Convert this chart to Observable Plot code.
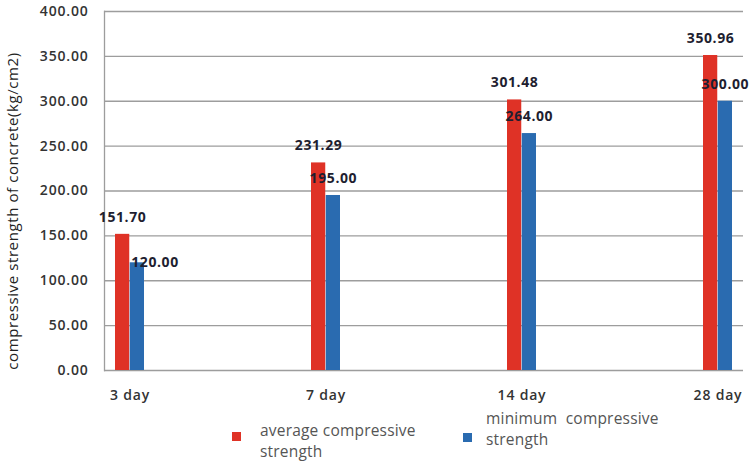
<!DOCTYPE html>
<html>
<head>
<meta charset="utf-8">
<script src="https://cdn.jsdelivr.net/npm/d3@7"></script>
<script src="https://cdn.jsdelivr.net/npm/@observablehq/plot@0.6"></script>
<style>
  html, body { margin: 0; padding: 0; background: #fff; }
  #wrap { position: relative; width: 750px; height: 466px; font-family: "Open Sans", sans-serif; }
  .leg { position: absolute; font-size: 15.5px; color: #555; line-height: 21px; letter-spacing: 0.2px; }
  .sw { position: absolute; width: 9px; height: 9px; }
</style>
</head>
<body>
<div id="wrap"></div>
<script>
const days = ["3 day", "7 day", "14 day", "28 day"];
const average = [151.70, 231.29, 301.48, 350.96];
const minimum = [120.00, 195.00, 264.00, 300.00];
const seriesNames = ["average compressive strength", "minimum  compressive strength"];
const seriesColors = ["#df3226", "#2a6bb0"];
const yTicks = [0, 50, 100, 150, 200, 250, 300, 350, 400];
const yLabel = "compressive strength of concrete(kg/cm2)";

const rows = days.map((d, i) => ({day: d, avg: average[i], min: minimum[i]}));
const fmt = d3.format(".2f");

const chart = Plot.plot({
  width: 750,
  height: 408,
  marginLeft: 104,
  marginRight: 7,
  marginTop: 11,
  marginBottom: 38,
  style: {fontFamily: "Open Sans, sans-serif", fontSize: "14px", color: "#333", background: "#fff"},
  x: {domain: days, paddingInner: 0.85, paddingOuter: 0.05, label: null, tickSize: 0, tickPadding: 20},
  y: {domain: [0, 400], ticks: yTicks, tickFormat: fmt, label: null, tickSize: 0, tickPadding: 16, grid: false},
  marks: [
    Plot.ruleY(yTicks, {stroke: "#9d9d9d", strokeWidth: 1.3}),
    Plot.frame({anchor: "left", stroke: "#9d9d9d", strokeWidth: 1.3}),
    Plot.barY(rows, {x: "day", y: "avg", fill: seriesColors[0], insetRight: 14.75}),
    Plot.barY(rows, {x: "day", y: "min", fill: seriesColors[1], insetLeft: 14.75}),
    Plot.text(rows, {x: "day", y: "avg", text: d => fmt(d.avg), dx: -7.4, dy: -17, fill: "#1e1e30", fontWeight: "bold", fontSize: 14}),
    Plot.text(rows.slice(1), {x: "day", y: "min", text: d => fmt(d.min), dx: 7.4, dy: -17, fill: "#1e1e30", fontWeight: "bold", fontSize: 14}),
    Plot.text(rows.slice(0, 1), {x: "day", y: "min", text: d => fmt(d.min), dx: 25, dy: 0, fill: "#1e1e30", fontWeight: "bold", fontSize: 14}),
    Plot.text([yLabel], {frameAnchor: "left", textAnchor: "middle", rotate: -90, dx: -91, dy: 20, fill: "#222", fontSize: 15})
  ]
});
chart.querySelectorAll("[aria-label='x-axis tick label'] text, [aria-label='y-axis tick label'] text, [aria-label='x-axis'] text, [aria-label='y-axis'] text").forEach(t => { t.style.fontWeight = "600"; t.setAttribute("fill", "#333"); t.style.letterSpacing = "0.8px"; });
chart.querySelectorAll("[aria-label='text'] text").forEach(t => { t.style.letterSpacing = "0.6px"; });
const wrap = document.getElementById("wrap");
wrap.appendChild(chart);

// legend below the SVG
const legPos = [
  {sx: 232, sy: 432, tx: 260, ty: 420, w: 185},
  {sx: 463, sy: 433, tx: 486, ty: 408, w: 200}
];
seriesNames.forEach((name, i) => {
  const p = legPos[i];
  const sw = document.createElement("div");
  sw.className = "sw";
  sw.style.left = p.sx + "px"; sw.style.top = p.sy + "px"; sw.style.background = seriesColors[i];
  wrap.appendChild(sw);
  const t = document.createElement("div");
  t.className = "leg";
  t.style.left = p.tx + "px"; t.style.top = p.ty + "px"; t.style.width = p.w + "px";
  t.style.whiteSpace = "pre-wrap";
  t.textContent = name.replace(/ strength$/, "\nstrength");
  wrap.appendChild(t);
});
</script>
</body>
</html>
